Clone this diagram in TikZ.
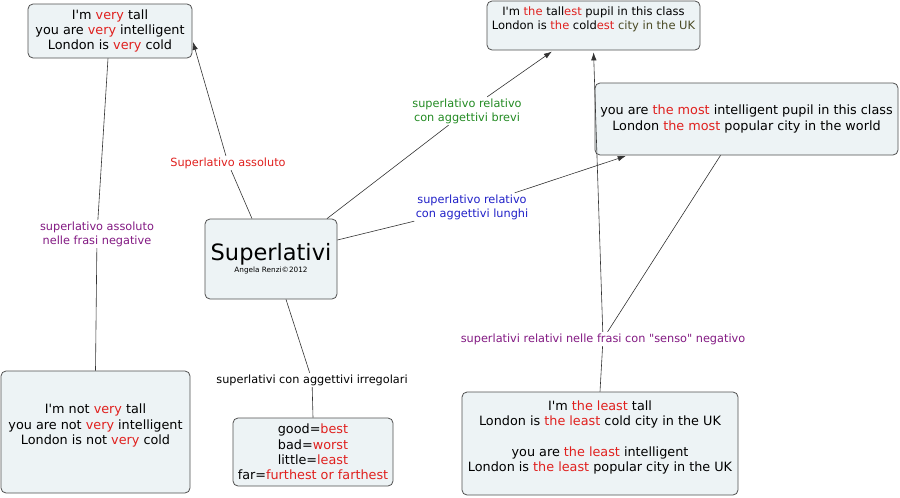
\documentclass[tikz,border=0pt]{standalone}
\usepackage{fontspec}
\setmainfont{DejaVu Sans}
\usepackage{tikz}
\usetikzlibrary{arrows.meta, positioning, calc}

\definecolor{boxfill}{HTML}{EDF3F5}
\definecolor{boxline}{HTML}{505050}
\definecolor{txtred}{HTML}{E0201E}
\definecolor{txtgreen}{HTML}{238B23}
\definecolor{txtblue}{HTML}{2020C8}
\definecolor{txtpurple}{HTML}{831A83}
\definecolor{txtolive}{HTML}{4A4A24}
\newcommand{\hlred}[1]{\textcolor{txtred}{#1}}
\newcommand{\ap}{\textquotesingle}

\begin{document}
\begin{tikzpicture}[
  x=1pt, y=-1pt,
  >=Latex,
  concept/.style={draw=boxline,line width=0.8pt,rounded corners=5pt,fill=boxfill,
    inner sep=0pt,align=center,font=\fontsize{12.8}{15.3}\selectfont},
  linkword/.style={fill=white,inner sep=1.5pt,align=center,font=\fontsize{11.3}{14}\selectfont},
  link/.style={draw=black!80,line width=0.6pt},
  arrow/.style={link,-{Latex[length=8pt,width=5.5pt]},shorten >=2pt}
]
\useasboundingbox (0,0) rectangle (900,498);

% ----- Concepts ------------------------------------------------------------
\node[concept,minimum width=132pt,minimum height=80pt] (sup) at (271,259)
  {{\fontsize{22.5}{24}\selectfont Superlativi}\\[-3pt]{\fontsize{7.3}{8}\selectfont Angela Renzi©2012}};

\node[concept,minimum width=164pt,minimum height=54pt] (very) at (110,31)
  {I\ap m \hlred{very} tall\\you are \hlred{very} intelligent\\London is \hlred{very} cold};

\node[concept,minimum width=213pt,minimum height=49pt,font=\fontsize{11.5}{14}\selectfont] (tall) at (593.5,25.5)
  {I\ap m \hlred{the} tall\hlred{est} pupil in this class\\
   London is \hlred{the} cold\hlred{est} \textcolor{txtolive}{city in the UK}\\ \mbox{}};

\node[concept,minimum width=303pt,minimum height=72pt] (most) at (746.5,119)
  {you are \hlred{the most} intelligent pupil in this class\\
   London \hlred{the most} popular city in the world};

\node[concept,minimum width=189pt,minimum height=122pt] (notvery) at (95.5,432)
  {I\ap m not \hlred{very} tall\\you are not \hlred{very} intelligent\\London is not \hlred{very} cold\\ \mbox{}};

\node[concept,minimum width=160pt,minimum height=68pt] (irr) at (313,452)
  {good=\hlred{best}\\bad=\hlred{worst}\\little=\hlred{least}\\far=\hlred{furthest or farthest}};

\node[concept,minimum width=276pt,minimum height=103pt] (least) at (600,443.5)
  {I\ap m \hlred{the least} tall\\London is \hlred{the least} cold city in the UK\\ \mbox{}\\
   you are \hlred{the least} intelligent\\London is \hlred{the least} popular city in the UK\\ \mbox{}};

% ----- Linking words -------------------------------------------------------
\node[linkword,text=txtred]    (assoluto) at (228,163) {Superlativo assoluto};
\node[linkword,text=txtgreen]  (brevi)    at (467,111) {superlativo relativo\\con aggettivi brevi};
\node[linkword,text=txtblue]   (lunghi)   at (472,207) {superlativo relativo\\con aggettivi lunghi};
\node[linkword]                (irregol)  at (312,380) {superlativi con aggettivi irregolari};
\node[linkword,text=txtpurple] (negative) at (97,234)  {superlativo assoluto\\nelle frasi negative};
\node[linkword,text=txtpurple] (senso)    at (603,339)
  {superlativi relativi nelle frasi con \textquotedbl senso\textquotedbl{} negativo};

% ----- Connections ---------------------------------------------------------
\draw[link]  ($(sup.north)+(-19,0)$) -- (assoluto);
\draw[arrow] (assoluto) -- ($(very.east)+(0,9)$);

\draw[link]  ($(sup.north)+(56,0)$) -- (brevi);
\draw[arrow] (brevi) -- ($(tall.south)+(-40,0)$);

\draw[link]  ($(sup.east)+(0,-19)$) -- (lunghi);
\draw[arrow] (lunghi) -- ($(most.south west)+(33,0)$);

\draw[link]  ($(sup.south)+(15,0)$) -- (irregol);
\draw[link]  (irregol) -- (irr.north);

\draw[link]  ($(very.south)+(-2,0)$) -- (negative);
\draw[link]  (negative) -- (notvery.north);

\draw[link]  (least.north) -- (senso);
\draw[arrow] (senso) -- (tall.south);
\draw[link]  (senso) -- ($(most.south)+(-26,0)$);

\end{tikzpicture}
\end{document}
